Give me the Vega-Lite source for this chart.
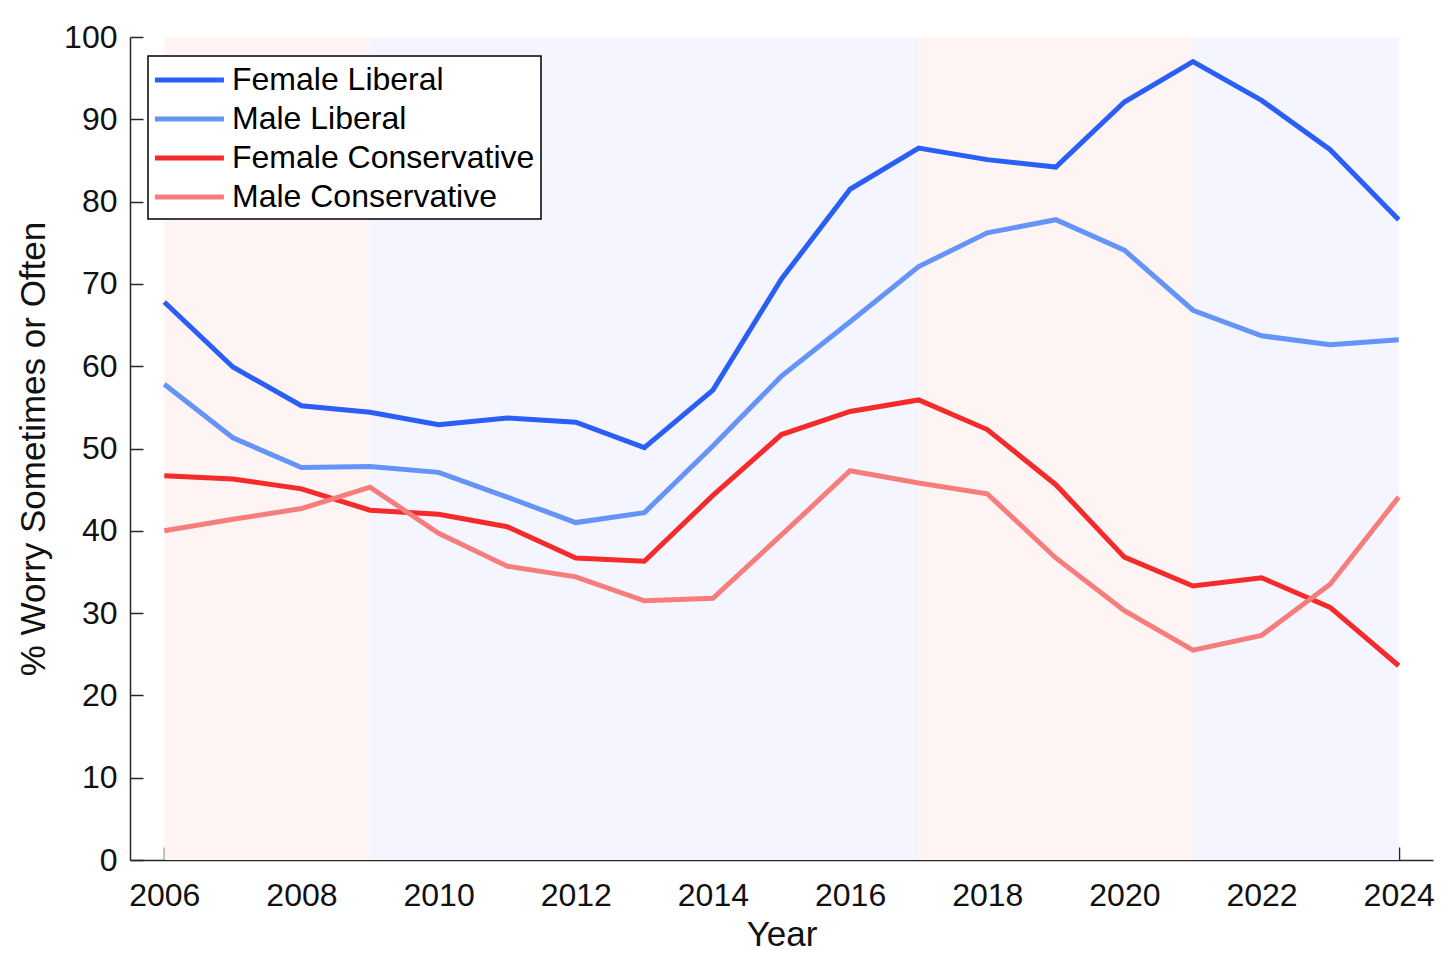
{
  "$schema": "https://vega.github.io/schema/vega-lite/v6.json",
  "width": 1303,
  "height": 823,
  "autosize": "none",
  "padding": {"left": 130, "top": 37, "right": 23, "bottom": 111},
  "background": "white",
  "config": {
    "view": {"stroke": null},
    "font": "Liberation Sans",
    "axis": {
      "grid": false,
      "domainColor": "#262626",
      "domainWidth": 1.5,
      "tickColor": "#262626",
      "tickWidth": 1.5,
      "tickSize": -13,
      "labelColor": "#111111",
      "labelFontSize": 32,
      "labelFont": "Liberation Sans",
      "titleFont": "Liberation Sans",
      "titleFontSize": 35,
      "titleFontWeight": "normal",
      "titleColor": "#111111"
    }
  },
  "datasets": {
    "periods": [
      {"start": 2006, "end": 2009, "party": "Republican"},
      {"start": 2009, "end": 2017, "party": "Democrat"},
      {"start": 2017, "end": 2021, "party": "Republican"},
      {"start": 2021, "end": 2024, "party": "Democrat"}
    ],
    "worry": [
      {"year": 2006, "group": "Female Liberal", "pct": 67.8},
      {"year": 2007, "group": "Female Liberal", "pct": 59.9},
      {"year": 2008, "group": "Female Liberal", "pct": 55.2},
      {"year": 2009, "group": "Female Liberal", "pct": 54.4},
      {"year": 2010, "group": "Female Liberal", "pct": 52.9},
      {"year": 2011, "group": "Female Liberal", "pct": 53.7},
      {"year": 2012, "group": "Female Liberal", "pct": 53.2},
      {"year": 2013, "group": "Female Liberal", "pct": 50.1},
      {"year": 2014, "group": "Female Liberal", "pct": 57.1},
      {"year": 2015, "group": "Female Liberal", "pct": 70.6},
      {"year": 2016, "group": "Female Liberal", "pct": 81.5},
      {"year": 2017, "group": "Female Liberal", "pct": 86.5},
      {"year": 2018, "group": "Female Liberal", "pct": 85.1},
      {"year": 2019, "group": "Female Liberal", "pct": 84.2},
      {"year": 2020, "group": "Female Liberal", "pct": 92.1},
      {"year": 2021, "group": "Female Liberal", "pct": 97.0},
      {"year": 2022, "group": "Female Liberal", "pct": 92.3},
      {"year": 2023, "group": "Female Liberal", "pct": 86.3},
      {"year": 2024, "group": "Female Liberal", "pct": 77.8},
      {"year": 2006, "group": "Male Liberal", "pct": 57.8},
      {"year": 2007, "group": "Male Liberal", "pct": 51.3},
      {"year": 2008, "group": "Male Liberal", "pct": 47.7},
      {"year": 2009, "group": "Male Liberal", "pct": 47.8},
      {"year": 2010, "group": "Male Liberal", "pct": 47.1},
      {"year": 2011, "group": "Male Liberal", "pct": 44.1},
      {"year": 2012, "group": "Male Liberal", "pct": 41.0},
      {"year": 2013, "group": "Male Liberal", "pct": 42.2},
      {"year": 2014, "group": "Male Liberal", "pct": 50.3},
      {"year": 2015, "group": "Male Liberal", "pct": 58.8},
      {"year": 2016, "group": "Male Liberal", "pct": 65.4},
      {"year": 2017, "group": "Male Liberal", "pct": 72.1},
      {"year": 2018, "group": "Male Liberal", "pct": 76.2},
      {"year": 2019, "group": "Male Liberal", "pct": 77.8},
      {"year": 2020, "group": "Male Liberal", "pct": 74.1},
      {"year": 2021, "group": "Male Liberal", "pct": 66.8},
      {"year": 2022, "group": "Male Liberal", "pct": 63.7},
      {"year": 2023, "group": "Male Liberal", "pct": 62.6},
      {"year": 2024, "group": "Male Liberal", "pct": 63.2},
      {"year": 2006, "group": "Female Conservative", "pct": 46.7},
      {"year": 2007, "group": "Female Conservative", "pct": 46.3},
      {"year": 2008, "group": "Female Conservative", "pct": 45.1},
      {"year": 2009, "group": "Female Conservative", "pct": 42.5},
      {"year": 2010, "group": "Female Conservative", "pct": 42.0},
      {"year": 2011, "group": "Female Conservative", "pct": 40.5},
      {"year": 2012, "group": "Female Conservative", "pct": 36.7},
      {"year": 2013, "group": "Female Conservative", "pct": 36.3},
      {"year": 2014, "group": "Female Conservative", "pct": 44.3},
      {"year": 2015, "group": "Female Conservative", "pct": 51.7},
      {"year": 2016, "group": "Female Conservative", "pct": 54.5},
      {"year": 2017, "group": "Female Conservative", "pct": 55.9},
      {"year": 2018, "group": "Female Conservative", "pct": 52.3},
      {"year": 2019, "group": "Female Conservative", "pct": 45.6},
      {"year": 2020, "group": "Female Conservative", "pct": 36.8},
      {"year": 2021, "group": "Female Conservative", "pct": 33.3},
      {"year": 2022, "group": "Female Conservative", "pct": 34.3},
      {"year": 2023, "group": "Female Conservative", "pct": 30.7},
      {"year": 2024, "group": "Female Conservative", "pct": 23.6},
      {"year": 2006, "group": "Male Conservative", "pct": 40.0},
      {"year": 2007, "group": "Male Conservative", "pct": 41.4},
      {"year": 2008, "group": "Male Conservative", "pct": 42.7},
      {"year": 2009, "group": "Male Conservative", "pct": 45.3},
      {"year": 2010, "group": "Male Conservative", "pct": 39.7},
      {"year": 2011, "group": "Male Conservative", "pct": 35.7},
      {"year": 2012, "group": "Male Conservative", "pct": 34.4},
      {"year": 2013, "group": "Male Conservative", "pct": 31.5},
      {"year": 2014, "group": "Male Conservative", "pct": 31.8},
      {"year": 2015, "group": "Male Conservative", "pct": 39.5},
      {"year": 2016, "group": "Male Conservative", "pct": 47.3},
      {"year": 2017, "group": "Male Conservative", "pct": 45.8},
      {"year": 2018, "group": "Male Conservative", "pct": 44.5},
      {"year": 2019, "group": "Male Conservative", "pct": 36.7},
      {"year": 2020, "group": "Male Conservative", "pct": 30.3},
      {"year": 2021, "group": "Male Conservative", "pct": 25.5},
      {"year": 2022, "group": "Male Conservative", "pct": 27.3},
      {"year": 2023, "group": "Male Conservative", "pct": 33.5},
      {"year": 2024, "group": "Male Conservative", "pct": 44.1}
    ]
  },
  "layer": [
    {
      "data": {"name": "periods"},
      "mark": {"type": "rect"},
      "encoding": {
        "x": {"field": "start", "type": "quantitative", "scale": {"domain": [2005.5, 2024.5], "nice": false, "zero": false}},
        "x2": {"field": "end"},
        "fill": {
          "field": "party",
          "type": "nominal",
          "scale": {"domain": ["Republican", "Democrat"], "range": ["#fff4f4", "#f4f5ff"]},
          "legend": null
        }
      }
    },
    {
      "data": {"name": "worry"},
      "mark": {"type": "line", "strokeWidth": 5, "strokeJoin": "miter"},
      "encoding": {
        "x": {
          "field": "year",
          "type": "quantitative",
          "title": "Year",
          "scale": {"domain": [2005.5, 2024.5], "nice": false, "zero": false},
          "axis": {
            "values": [2006, 2008, 2010, 2012, 2014, 2016, 2018, 2020, 2022, 2024],
            "format": "d",
            "labelPadding": 33,
            "titlePadding": 6
          }
        },
        "y": {
          "field": "pct",
          "type": "quantitative",
          "title": "% Worry Sometimes or Often",
          "scale": {"domain": [0, 100], "nice": false},
          "axis": {
            "values": [0, 10, 20, 30, 40, 50, 60, 70, 80, 90, 100],
            "labelPadding": 26,
            "titlePadding": 12
          }
        },
        "stroke": {
          "field": "group",
          "type": "nominal",
          "sort": null,
          "scale": {
            "domain": ["Female Liberal", "Male Liberal", "Female Conservative", "Male Conservative"],
            "range": ["#2a5ff5", "#6494f7", "#f52a2a", "#f77d7d"]
          },
          "legend": {
            "title": null,
            "orient": "none",
            "legendX": 18,
            "legendY": 19,
            "symbolType": "M-1.1,0H3.35",
            "symbolSize": 961,
            "symbolStrokeWidth": 5,
            "labelFontSize": 32,
            "labelFont": "Liberation Sans",
            "labelColor": "#000000",
            "labelLimit": 0,
            "labelOffset": 42,
            "rowPadding": 5,
            "padding": 6,
            "fillColor": "white",
            "strokeColor": "#000000",
            "encode": {"legend": {"update": {"strokeWidth": {"value": 1.5}, "width": {"value": 386}}}}
          }
        }
      }
    }
  ]
}
